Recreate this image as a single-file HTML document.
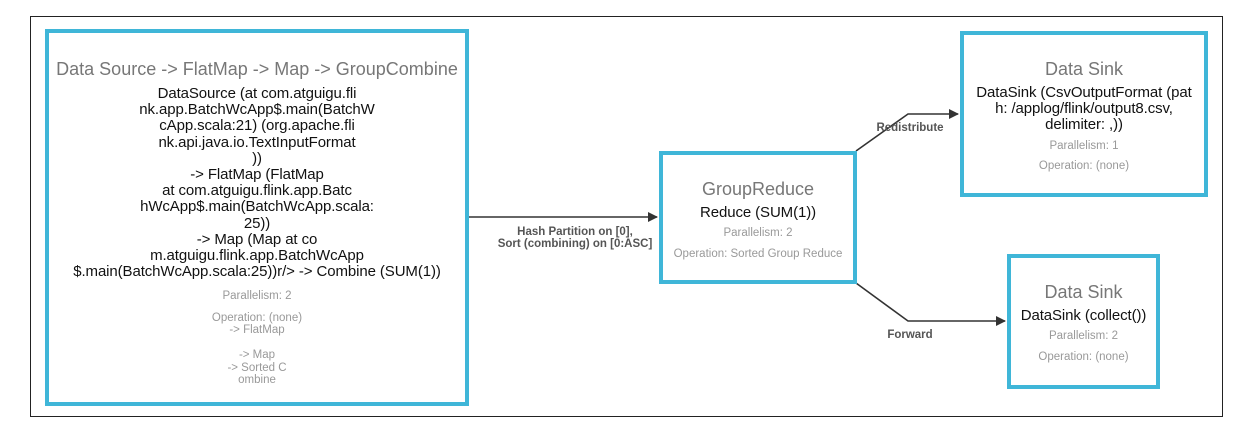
<!DOCTYPE html>
<html><head><style>
body{margin:0;width:1255px;height:430px;background:#fff;font-family:"Liberation Sans",Arial,sans-serif;position:relative;overflow:hidden}
.frame{position:absolute;left:30px;top:16px;width:1191px;height:399px;border:1px solid #222}
.box{position:absolute;border:4px solid #3fb6d8;box-sizing:border-box;text-align:center;background:#fff}
.t{color:#777;font-size:18px;line-height:20px}
.b{color:#111;font-size:15px;line-height:16.2px;letter-spacing:-0.1px}
.s{color:#999;font-size:11.5px;line-height:12.5px}
.lbl{position:absolute;font-size:11.5px;font-weight:bold;color:#555;text-align:center;line-height:12px}
</style></head><body>
<div class="frame"></div>
<svg width="1255" height="430" style="position:absolute;left:0;top:0">
<defs><marker id="a" markerWidth="10" markerHeight="10" refX="9" refY="5" orient="auto" markerUnits="userSpaceOnUse"><path d="M0,0 L10,5 L0,10z" fill="#333"/></marker></defs>
<g stroke="#333" stroke-width="1.6" fill="none">
<path d="M468,217 H657" marker-end="url(#a)"/>
<path d="M856,151 L908,114 H958" marker-end="url(#a)"/>
<path d="M856,283 L908,321 H1005" marker-end="url(#a)"/>
</g></svg>
<div class="lbl" style="left:460px;top:226px;width:230px">Hash Partition on [0],<br>Sort (combining) on [0:ASC]</div>
<div class="lbl" style="left:865px;top:122px;width:90px">Redistribute</div>
<div class="lbl" style="left:865px;top:329px;width:90px">Forward</div>

<div class="box" style="left:45px;top:29px;width:424px;height:377px">
<div class="t" style="margin-top:26px">Data Source -&gt; FlatMap -&gt; Map -&gt; GroupCombine</div>
<div class="b" style="margin-top:7px">DataSource (at com.atguigu.fli<br>nk.app.BatchWcApp$.main(BatchW<br>cApp.scala:21) (org.apache.fli<br>nk.api.java.io.TextInputFormat<br>))<br>-&gt; FlatMap (FlatMap<br>at com.atguigu.flink.app.Batc<br>hWcApp$.main(BatchWcApp.scala:<br>25))<br>-&gt; Map (Map at co<br>m.atguigu.flink.app.BatchWcApp<br>$.main(BatchWcApp.scala:25))r/&gt; -&gt; Combine (SUM(1))</div>
<div class="s" style="margin-top:10px">Parallelism: 2</div>
<div class="s" style="margin-top:9px">Operation: (none)<br>-&gt; FlatMap<br><br>-&gt; Map<br>-&gt; Sorted C<br>ombine</div>
</div>

<div class="box" style="left:659px;top:151px;width:198px;height:133px">
<div class="t" style="margin-top:24px">GroupReduce</div>
<div class="b" style="margin-top:6px">Reduce (SUM(1))</div>
<div class="s" style="margin-top:6px">Parallelism: 2</div>
<div class="s" style="margin-top:8px">Operation: Sorted Group Reduce</div>
</div>

<div class="box" style="left:960px;top:31px;width:248px;height:166px">
<div class="t" style="margin-top:24px">Data Sink</div>
<div class="b" style="margin-top:6px">DataSink (CsvOutputFormat (pat<br>h: /applog/flink/output8.csv,<br>delimiter: ,))</div>
<div class="s" style="margin-top:6px">Parallelism: 1</div>
<div class="s" style="margin-top:8px">Operation: (none)</div>
</div>

<div class="box" style="left:1007px;top:254px;width:153px;height:135px">
<div class="t" style="margin-top:24px">Data Sink</div>
<div class="b" style="margin-top:6px">DataSink (collect())</div>
<div class="s" style="margin-top:6px">Parallelism: 2</div>
<div class="s" style="margin-top:8px">Operation: (none)</div>
</div>
</body></html>
